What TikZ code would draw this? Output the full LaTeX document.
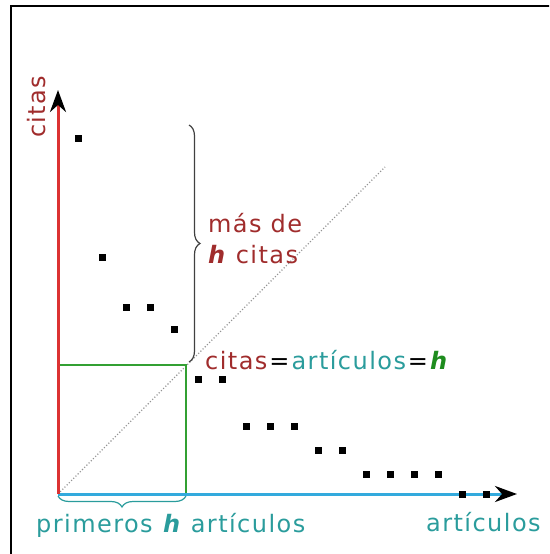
\documentclass[tikz,border=0pt]{standalone}
\usepackage{fontspec}
\setmainfont[LetterSpace=6]{DejaVu Sans}
\usetikzlibrary{arrows.meta,decorations.pathreplacing}
\definecolor{darkred}{HTML}{A02C2C}
\definecolor{tealtxt}{HTML}{2A9C9C}
\definecolor{hgreen}{HTML}{1E8C1E}
\definecolor{axred}{HTML}{DC3232}
\definecolor{axblue}{HTML}{33AADD}
\definecolor{sqgreen}{HTML}{33A033}
\tikzset{
  pt/.style={fill=black, draw=none, minimum size=7pt, inner sep=0pt, outer sep=0pt, rectangle},
  lbl/.style={inner sep=0pt, font=\fontsize{24}{28}\selectfont},
  axtip/.style={-{Stealth[black,length=22pt,width=16pt,inset=7pt]}},
  bracestyle/.style={decorate, draw=black!75, line width=1.2pt},
}
\newcommand{\hh}{\textbf{\textit{h}}}
\newcommand{\eqs}{\kern2pt=\kern2pt}
\begin{document}
\begin{tikzpicture}[x=1pt,y=-1pt]
\useasboundingbox (0,0) rectangle (549,554);
\begin{scope}
\clip (0,0) rectangle (549,554);
\draw[line width=2.6pt] (11,570) -- (11,6) -- (570,6);
\end{scope}
% coordinates
\coordinate (O) at (58,494);
\coordinate (Ytip) at (58,90);
\coordinate (Xtip) at (517,494);
\coordinate (D) at (385,167);
\coordinate (Sq) at (186,365);
\coordinate (SqX) at (186,494);
\coordinate (SqY) at (58,365);
\coordinate (Btop) at (189,125);
\coordinate (Bbot) at (189,362);
\coordinate (Hl) at (58,496);
\coordinate (Hr) at (186,496);
% diagonal
\draw[gray!85, dotted, line width=1.1pt] (O) -- (D);
% green square
\draw[sqgreen, line width=1.6pt] (SqY) -- (Sq) -- (SqX);
% axes
\draw[axblue, line width=3pt, axtip] (O) -- (Xtip);
\draw[axred, line width=3pt, axtip] (O) -- (Ytip);
% braces
\draw[bracestyle, decoration={brace, amplitude=11pt}] (Btop) -- (Bbot);
\draw[bracestyle, draw=tealtxt, decoration={brace, amplitude=11pt}] (Hr) -- (Hl);
% points
\foreach \i/\x/\y in {1/78/138, 2/102/257, 3/126/307, 4/150/307, 5/174/329, 6/198/379, 7/222/379, 8/246/426, 9/270/426, 10/294/426, 11/318/450, 12/342/450, 13/366/474, 14/390/474, 15/414/474, 16/438/474, 17/462/494, 18/486/494}
  \node[pt] (p\i) at (\x,\y) {};
% labels
\node[lbl, text=darkred, rotate=90, anchor=base west] (ylab) at (45,138) {citas};
\node[lbl, text=tealtxt, anchor=base west] (xlab) at (426,531) {artículos};
\node[lbl, text=tealtxt, anchor=base west] (hlab) at (36,532) {primeros \hh{} artículos};
\node[lbl, text=darkred, anchor=base west] (mas) at (208,232) {más de};
\node[lbl, text=darkred, anchor=base west] (hcit) at (208,263) {\hh{} citas};
\node[lbl, anchor=base west] (eq) at (205,369) {\textcolor{darkred}{citas}\eqs\textcolor{tealtxt}{artículos}\eqs\textcolor{hgreen}{\hh}};
\end{tikzpicture}
\end{document}
